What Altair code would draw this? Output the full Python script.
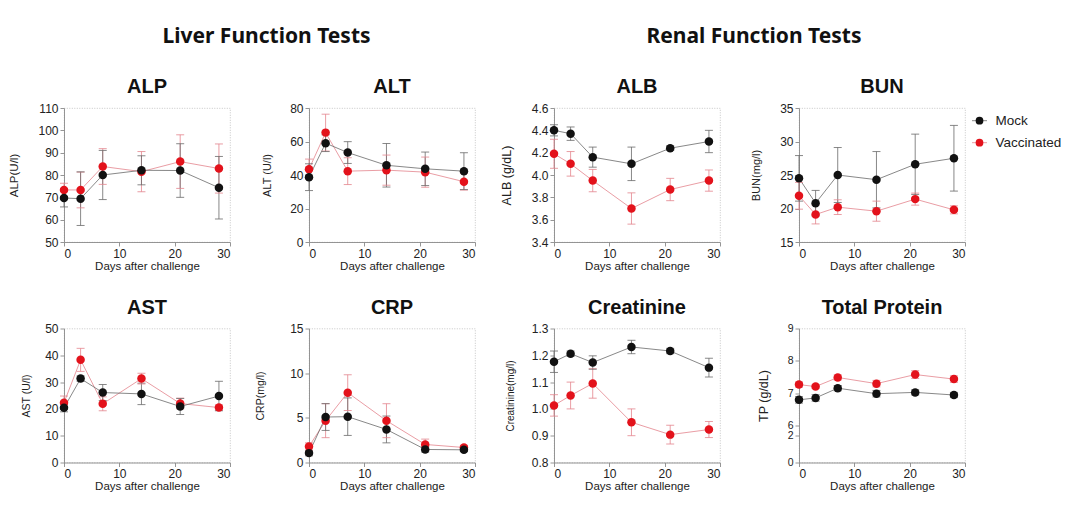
import altair as alt
import pandas as pd

days = [0, 3, 7, 14, 21, 28]
groups = ["Mock", "Vaccinated"]
point_colors = ["#111111", "#e3121b"]
line_colors = ["#6a6a6a", "#e3848d"]

alp_mock = [69.7, 69.4, 80.0, 82.1, 82.0, 74.3]
alp_mock_err = [4.0, 12.0, 11.0, 6.5, 12.0, 14.0]
alp_vac = [73.3, 73.3, 83.8, 81.5, 86.0, 82.9]
alp_vac_err = [3.0, 8.0, 8.0, 9.0, 12.0, 11.0]

alt_mock = [38.7, 59.0, 53.4, 45.8, 43.7, 42.3]
alt_mock_err = [8.0, 5.0, 6.5, 13.0, 10.0, 11.0]
alt_vac = [43.5, 65.3, 42.3, 42.9, 41.7, 36.0]
alt_vac_err = [6.0, 11.0, 8.0, 9.0, 9.0, 5.0]

alb_mock = [4.40, 4.37, 4.16, 4.10, 4.24, 4.30]
alb_mock_err = [0.05, 0.06, 0.09, 0.15, 0.02, 0.10]
alb_vac = [4.19, 4.10, 3.95, 3.70, 3.87, 3.95]
alb_vac_err = [0.13, 0.11, 0.10, 0.14, 0.10, 0.095]

bun_mock = [24.5, 20.8, 25.0, 24.3, 26.6, 27.5]
bun_mock_err = [3.4, 1.9, 4.1, 4.2, 4.5, 4.9]
bun_vac = [21.9, 19.1, 20.2, 19.6, 21.4, 19.8]
bun_vac_err = [2.0, 1.4, 1.1, 1.5, 0.9, 0.6]

ast_mock = [20.4, 31.3, 26.1, 25.6, 20.9, 24.8]
ast_mock_err = [1.5, 1.0, 3.0, 4.0, 3.0, 5.5]
ast_vac = [22.3, 38.3, 21.9, 31.3, 22.0, 20.5]
ast_vac_err = [2.5, 4.3, 2.6, 2.0, 2.0, 1.0]

crp_mock = [1.05, 5.09, 5.13, 3.70, 1.46, 1.42]
crp_mock_err = [0.3, 1.5, 2.1, 1.5, 0.3, 0.2]
crp_vac = [1.80, 4.68, 7.82, 4.68, 2.02, 1.68]
crp_vac_err = [0.4, 1.9, 2.0, 1.9, 0.6, 0.2]

cre_mock = [1.176, 1.206, 1.173, 1.231, 1.216, 1.154]
cre_mock_err = [0.04, 0.01, 0.025, 0.025, 0.01, 0.035]
cre_vac = [1.013, 1.050, 1.095, 0.950, 0.904, 0.923]
cre_vac_err = [0.04, 0.05, 0.055, 0.05, 0.035, 0.03]

tp_mock = [6.80, 6.86, 7.16, 6.99, 7.03, 6.95]
tp_mock_err = [0.10, 0.10, 0.08, 0.10, 0.08, 0.08]
tp_vac = [7.27, 7.21, 7.49, 7.30, 7.58, 7.44]
tp_vac_err = [0.08, 0.05, 0.08, 0.10, 0.12, 0.10]

W, H = 166, 134
FONT = "Liberation Sans"


def make_df(mock, mock_err, vac, vac_err):
    rows = []
    for g, m, e in (("Vaccinated", vac, vac_err), ("Mock", mock, mock_err)):
        for d, v, s in zip(days, m, e):
            rows.append({"day": d, "group": g, "mean": v, "lo": v - s, "hi": v + s})
    return pd.DataFrame(rows)


def text_layer(txt, x, y, font, size, weight="bold", align="center"):
    return alt.Chart(pd.DataFrame({"t": [txt]})).mark_text(
        font=font, fontWeight=weight, fontSize=size, align=align, baseline="middle",
        color="#111").encode(text="t:N", x=alt.value(x), y=alt.value(y))


def legend_layers(x0, y0, dy):
    out = []
    for i, g in enumerate(groups):
        y = y0 + dy * i
        one = alt.Chart(pd.DataFrame({"group": [g]}))
        out.append(one.mark_rule(strokeWidth=0.8, color=line_colors[i]).encode(
            x=alt.value(x0 - 7.5), x2=alt.value(x0 + 7.5), y=alt.value(y)))
        out.append(one.mark_circle(size=60, opacity=1, color=point_colors[i]).encode(
            x=alt.value(x0), y=alt.value(y)))
        out.append(one.mark_text(font=FONT, fontSize=13.5, align="left", baseline="middle",
                                 color="#222").encode(
            text="group:N", x=alt.value(x0 + 16), y=alt.value(y)))
    return out


def panel(title, ytitle, mock, mock_err, vac, vac_err, scale, ticks, fmt,
          ytsize, tpad, extra=None, legend=False, lab_size=12):
    df = make_df(mock, mock_err, vac, vac_err)
    base = alt.Chart(df)
    xenc = alt.X("day:Q", scale=alt.Scale(domain=[0, 30], nice=False),
                 axis=alt.Axis(values=[0, 10, 20, 30], title="Days after challenge"))
    yaxis = alt.Axis(values=ticks, format=fmt, title=ytitle, titleFontSize=ytsize,
                     titlePadding=tpad, labelFontSize=lab_size)
    stroke = alt.Stroke("group:N", scale=alt.Scale(domain=groups, range=line_colors),
                        legend=None)
    line = base.mark_line(strokeWidth=0.8).encode(
        x=xenc, y=alt.Y("mean:Q", scale=scale, axis=yaxis, title=ytitle), stroke=stroke)
    bar = base.mark_rule(strokeWidth=0.8).encode(
        x=xenc, y=alt.Y("lo:Q", scale=scale, axis=yaxis, title=ytitle), y2="hi:Q", stroke=stroke)
    cap_hi = base.mark_rule(strokeWidth=0.8, xOffset=-4, x2Offset=4).encode(
        x=xenc, x2="day:Q", y=alt.Y("hi:Q", scale=scale, axis=yaxis, title=ytitle), stroke=stroke)
    cap_lo = base.mark_rule(strokeWidth=0.8, xOffset=-4, x2Offset=4).encode(
        x=xenc, x2="day:Q", y=alt.Y("lo:Q", scale=scale, axis=yaxis, title=ytitle), stroke=stroke)
    pts = base.mark_circle(size=72, opacity=1).encode(
        x=xenc, y=alt.Y("mean:Q", scale=scale, axis=yaxis, title=ytitle),
        color=alt.Color("group:N", scale=alt.Scale(domain=groups, range=point_colors),
                        legend=None))
    layers = [line, bar, cap_hi, cap_lo, pts, text_layer(title, W / 2, -21, FONT, 20)]
    if extra is not None:
        layers.append(text_layer(extra[0], extra[1], -71, "Noto Sans", 21))
    if legend:
        layers += legend_layers(180.5, 12.7, 22)
    return alt.layer(*layers).properties(width=W, height=H)


def lin(lo, hi):
    return alt.Scale(domain=[lo, hi], nice=False, zero=False)


p_alp = panel("ALP", "ALP(U/l)", alp_mock, alp_mock_err, alp_vac, alp_vac_err, lin(50, 110),
              [50, 60, 70, 80, 90, 100, 110], "d", 11.5, 18.5, ("Liver Function Tests", 202.5))
p_alt = panel("ALT", "ALT (U/l)", alt_mock, alt_mock_err, alt_vac, alt_vac_err, lin(0, 80),
              [0, 20, 40, 60, 80], "d", 11, 17)
p_alb = panel("ALB", "ALB (g/dL)", alb_mock, alb_mock_err, alb_vac, alb_vac_err, lin(3.4, 4.6),
              [3.4, 3.6, 3.8, 4.0, 4.2, 4.4, 4.6], ".1f", 12.5, 18, ("Renal Function Tests", 200))
p_bun = panel("BUN", "BUN(mg/l)", bun_mock, bun_mock_err, bun_vac, bun_vac_err, lin(15, 35),
              [15, 20, 25, 30, 35], "d", 11, 18, legend=True)
p_ast = panel("AST", "AST (U/l)", ast_mock, ast_mock_err, ast_vac, ast_vac_err, lin(0, 50),
              [0, 10, 20, 30, 40, 50], "d", 10.5, 13)
p_crp = panel("CRP", "CRP(mg/l)", crp_mock, crp_mock_err, crp_vac, crp_vac_err, lin(0, 15),
              [0, 5, 10, 15], "d", 10.5, 24)
p_cre = panel("Creatinine", "Creatinine(mg/l)", cre_mock, cre_mock_err, cre_vac, cre_vac_err,
              lin(0.8, 1.3), [0.8, 0.9, 1.0, 1.1, 1.2, 1.3], ".1f", 10, 16)
tp_scale = alt.Scale(domain=[0, 2, 6, 9], range=[H, H - 26.7, H - 36.7, 0])
p_tp = panel("Total Protein", "TP (g/dL)", tp_mock, tp_mock_err, tp_vac, tp_vac_err, tp_scale,
             [0, 2, 6, 7, 8, 9], "d", 12.5, 17, lab_size=10.5)

chart = alt.concat(p_alp, p_alt, p_alb, p_bun, p_ast, p_crp, p_cre, p_tp,
                   columns=4, spacing={"row": 86.5, "column": 79}, bounds="flush").properties(
    padding={"left": 0, "top": 17, "right": 5, "bottom": 5}
).configure(font=FONT).configure_view(
    stroke="#b8b8b8", strokeDash=[1, 1.5], strokeWidth=0.8
).configure_axis(
    grid=False, labelFont=FONT, titleFont=FONT, labelFontSize=12, titleFontSize=11.5,
    titleFontWeight="normal", labelColor="#222", titleColor="#222",
    domainColor="#8a8a8a", tickColor="#8a8a8a", tickSize=4, labelPadding=2,
    domainWidth=0.9, tickWidth=0.9, labelOverlap=False
).configure_axisX(titlePadding=1)

chart.save("out.html", embed_options={"renderer": "svg", "actions": False})
